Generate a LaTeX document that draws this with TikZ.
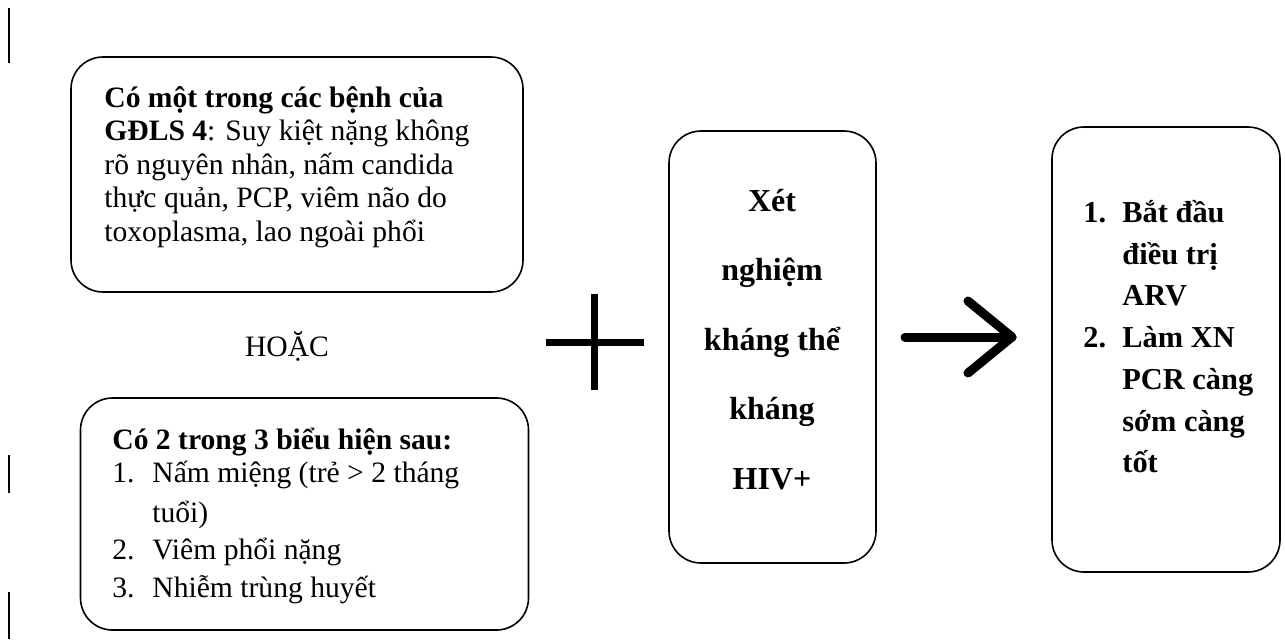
\documentclass[tikz,border=0pt]{standalone}
\usepackage{fontspec}
\setmainfont{Liberation Serif}
\begin{document}
\begin{tikzpicture}[x=0.5pt,y=-0.5pt,
  box/.style={draw, line width=0.8pt, rounded corners=16pt, inner sep=0pt},
  txt/.style={anchor=base west, inner sep=0pt, font=\fontsize{14.8}{17}\selectfont},
  btxt/.style={txt, font=\fontsize{14.8}{17}\selectfont\bfseries},
  rtxt/.style={anchor=base west, inner sep=0pt, font=\fontsize{15.2}{17}\selectfont\bfseries},
  ctxt/.style={anchor=base, inner sep=0pt, font=\fontsize{16}{18}\selectfont\bfseries},
  pagemark/.style={line width=0.75pt},
  plusbar/.style={line width=3.5pt},
  bigarrow/.style={line width=4.5pt, line cap=round, line join=round}]
\useasboundingbox (0,0) rectangle (1285,639);
% page marks at left
\draw[pagemark] (9,8) -- (9,63);
\draw[pagemark] (9,455) -- (9,493);
\draw[pagemark] (9,592) -- (9,639);
% boxes
\node[box, minimum width=226pt, minimum height=117.5pt] (b1) at (297,174.5) {};
\node[box, minimum width=224pt, minimum height=116pt] (b2) at (304.5,514) {};
\node[box, minimum width=103.5pt, minimum height=216pt] (b3) at (772.5,347) {};
\node[box, minimum width=114pt, minimum height=222.5pt] (b4) at (1166,349.5) {};
% box 1 text
\node[txt] (t11) at (104,107) {\textbf{Có một trong các bệnh của}};
\node[txt] (t12) at (104,140) {\textbf{GĐLS 4}: Suy kiệt nặng không};
\node[txt] (t13) at (104,174) {rõ nguyên nhân, nấm candida};
\node[txt] (t14) at (104,207) {thực quản, PCP, viêm não do};
\node[txt] (t15) at (104,241) {toxoplasma, lao ngoài phổi};
% or
\node[anchor=base, inner sep=0pt, font=\fontsize{14.8}{17}\selectfont] (or) at (287,356) {HOẶC};
% box 2 text
\node[btxt] (t21) at (112,449) {Có 2 trong 3 biểu hiện sau:};
\node[txt] (n21) at (112,482) {1.};
\node[txt] (t22) at (152,482) {Nấm miệng (trẻ > 2 tháng};
\node[txt] (t23) at (152,522) {tuổi)};
\node[txt] (n22) at (112,559) {2.};
\node[txt] (t24) at (152,559) {Viêm phổi nặng};
\node[txt] (n23) at (112,597) {3.};
\node[txt] (t25) at (152,597) {Nhiễm trùng huyết};
% plus
\draw[plusbar] (546,342) -- (644,342);
\draw[plusbar] (594.5,294) -- (594.5,390);
% box 3 text
\node[ctxt] (t31) at (772,211) {Xét};
\node[ctxt] (t32) at (772,280.5) {nghiệm};
\node[ctxt] (t33) at (772,350) {kháng thể};
\node[ctxt] (t34) at (772,419.5) {kháng};
\node[ctxt] (t35) at (772,489) {HIV+};
% arrow
\coordinate (aS) at (905,337);
\coordinate (aE) at (1012,337);
\coordinate (aU) at (968,301);
\coordinate (aD) at (968,373);
\draw[bigarrow] (aS) -- (aE);
\draw[bigarrow] (aU) -- (aE) -- (aD);
% box 4 text
\node[rtxt] (n41) at (1083,222) {1.};
\node[rtxt] (t41) at (1122,222) {Bắt đầu};
\node[rtxt] (t42) at (1122,264) {điều trị};
\node[rtxt] (t43) at (1122,305) {ARV};
\node[rtxt] (n42) at (1083,347) {2.};
\node[rtxt] (t44) at (1122,347) {Làm XN};
\node[rtxt] (t45) at (1122,389) {PCR càng};
\node[rtxt] (t46) at (1122,431) {sớm càng};
\node[rtxt] (t47) at (1122,472) {tốt};
\end{tikzpicture}
\end{document}
